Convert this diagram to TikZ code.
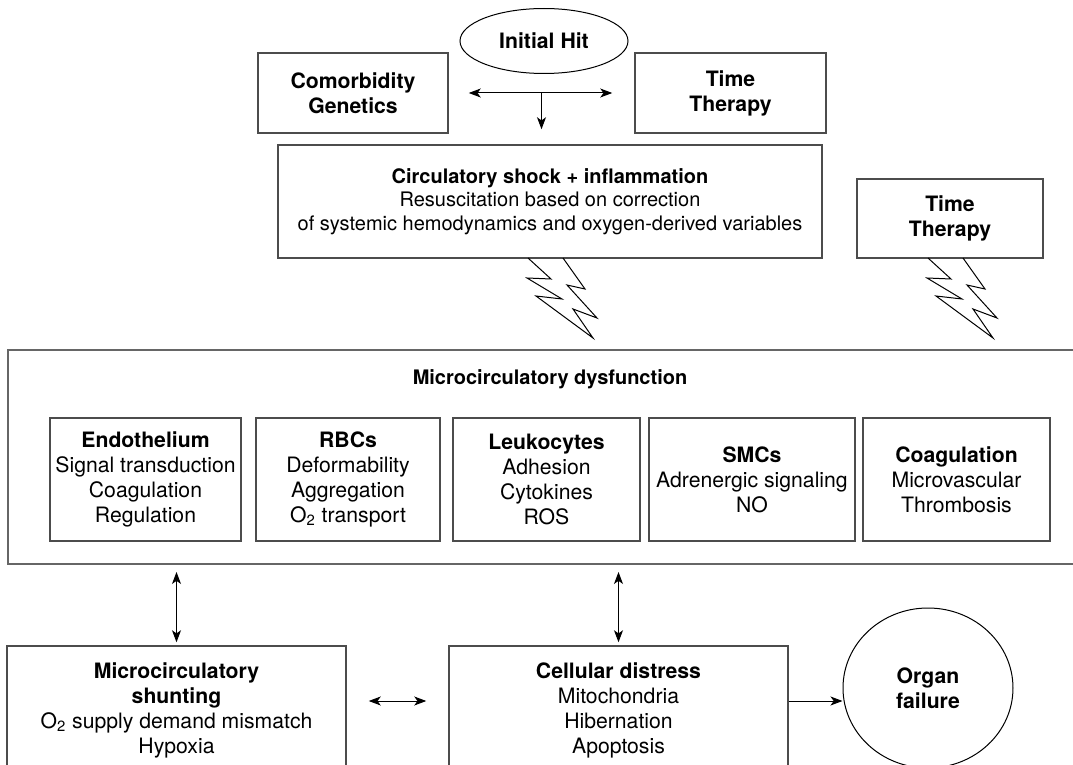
\documentclass[tikz,border=0pt]{standalone}
\usepackage{fontspec}
\setmainfont{TeX Gyre Heros}
\usepackage{tikz}
\usetikzlibrary{arrows.meta,shapes,positioning,calc}

\tikzset{
  box/.style={draw=black!70, line width=0.75pt, align=center, inner sep=0pt,
    font=\fontsize{10.6}{12.5}\selectfont},
  part/.style={box, minimum height=61.5pt},
  oval/.style={draw, ellipse, line width=0.5pt, align=center, inner sep=0pt,
    font=\bfseries\fontsize{10.6}{12.5}\selectfont},
  link/.style={line width=0.5pt, -{Stealth[length=6pt, width=4.5pt, inset=1.6pt]}},
  dlink/.style={line width=0.5pt, {Stealth[length=6pt, width=4.5pt, inset=1.6pt]}-{Stealth[length=6pt, width=4.5pt, inset=1.6pt]}},
}

\begin{document}
\begin{tikzpicture}[x=0.5pt, y=-0.5pt]
    \useasboundingbox (0,0) rectangle (1073,765);
    \clip (0,0) rectangle (1073,765);

    % top: initial hit and modifiers
    \node[oval, minimum width=84pt, minimum height=32.5pt] (hit) at (544,41) {Initial Hit};
    \node[box, minimum width=95pt, minimum height=40pt] (comorb) at (353,93) {\textbf{Comorbidity}\\\textbf{Genetics}};
    \node[box, minimum width=95.5pt, minimum height=40pt] (timeA) at (730.5,93) {\textbf{Time}\\\textbf{Therapy}};
    \node[box, minimum width=272pt, minimum height=56.5pt, font=\fontsize{10}{11.75}\selectfont] (circ) at (550,201.5)
        {\textbf{Circulatory shock + inflammation}\\Resuscitation based on correction\\of systemic hemodynamics and oxygen-derived variables};
    \node[box, minimum width=93pt, minimum height=39.5pt] (timeB) at (950,218.5) {\textbf{Time}\\\textbf{Therapy}};

    \coordinate (split) at ($(comorb.east)!0.5!(timeA.west)$);
    \draw[dlink, shorten <=10pt, shorten >=11pt] (comorb.east) -- (timeA.west);
    \draw[link, shorten >=7.5pt] (split) -- (split |- circ.north);

    % lightning bolts
    \foreach \bx in {528,928}
        \draw[line width=0.5pt, shift={(\bx,258)}] (0,0) -- (23,21) -- (-1,20) -- (34,41) -- (8,38) -- (65,80)
            -- (45,51) -- (69,60) -- (39,27) -- (57,31) -- (35,0);

    % microcirculation
    \node[box, draw=black!60, line width=1pt, anchor=north west, minimum width=543pt, minimum height=107pt] (micro) at (7,349) {};
    \node[font=\bfseries\fontsize{10}{12}\selectfont] (microtitle) at (550,379) {Microcirculatory dysfunction};

    \node[part, minimum width=95.5pt] (endo) at (145.5,479.5) {\textbf{Endothelium}\\Signal transduction\\Coagulation\\Regulation};
    \node[part, minimum width=92pt] (rbc) at (348,479.5) {\textbf{RBCs}\\Deformability\\Aggregation\\O\textsubscript{2} transport};
    \node[part, minimum width=93.5pt] (leuko) at (546.5,479.5) {\textbf{Leukocytes}\\Adhesion\\Cytokines\\ROS};
    \node[part, minimum width=103pt] (smc) at (752,479.5) {\textbf{SMCs}\\Adrenergic signaling\\NO};
    \node[part, minimum width=93.5pt] (coag) at (956.5,479.5) {\textbf{Coagulation}\\Microvascular\\Thrombosis};

    % bottom row
    \node[box, minimum width=169.5pt, minimum height=64pt] (shunt) at (176.5,710)
        {\textbf{Microcirculatory}\\\textbf{shunting}\\O\textsubscript{2} supply demand mismatch\\Hypoxia};
    \node[box, minimum width=169.5pt, minimum height=64pt] (distress) at (618.5,710)
        {\textbf{Cellular distress}\\Mitochondria\\Hibernation\\Apoptosis};
    \node[oval, minimum width=85pt, minimum height=80pt] (organ) at (928,688) {Organ\\failure};

    \draw[dlink, shorten <=3.5pt, shorten >=1.5pt] (shunt.north |- micro.south) -- (shunt.north);
    \draw[dlink, shorten <=3.5pt, shorten >=1.5pt] (distress.north |- micro.south) -- (distress.north);
    \draw[dlink, shorten <=11pt, shorten >=11pt] ([yshift=4.5pt]shunt.east) -- ([yshift=4.5pt]distress.west);
    \draw[link] ([yshift=4.5pt]distress.east) -- ([yshift=4.5pt]distress.east -| organ.west);
\end{tikzpicture}
\end{document}
